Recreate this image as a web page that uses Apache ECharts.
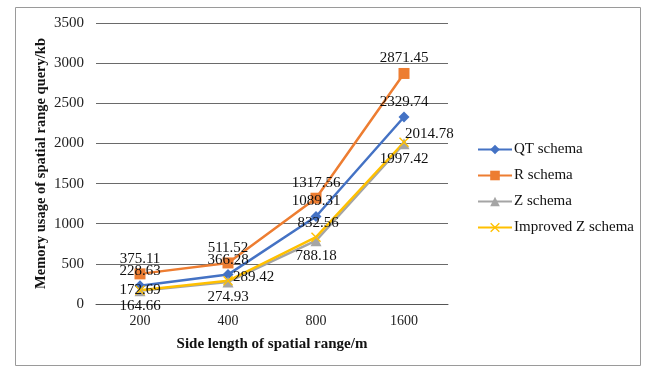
<!DOCTYPE html>
<html>
<head>
<meta charset="utf-8">
<style>
  html, body { margin: 0; padding: 0; background: #ffffff; }
  #chart { width: 646px; height: 367px; }
</style>
<script src="https://cdn.jsdelivr.net/npm/echarts@6/dist/echarts.min.js"></script>
</head>
<body>
<div id="chart"></div>
<script>
// Side lengths of the query window (m)
const categories = ['200', '400', '800', '1600'];

// Memory usage per schema (kb)
const qtSchema = [228.63, 366.28, 1089.31, 2329.74];
const rSchema = [375.11, 511.52, 1317.56, 2871.45];
const zSchema = [164.66, 274.93, 788.18, 1997.42];
const improvedZSchema = [172.69, 289.42, 832.56, 2014.78];

const seriesNames = ['QT schema', 'R schema', 'Z schema', 'Improved Z schema'];

// Where each value label sits relative to its point
const qtLabelPos = ['top', 'top', 'top', 'top'];
const rLabelPos = ['top', 'top', 'top', 'top'];
const zLabelPos = ['bottom', 'bottom', 'bottom', 'bottom'];
const improvedLabelPos = ['inside', 'right', 'top', 'right'];

const serif = '"Liberation Serif", "Times New Roman", serif';
const crossPath = 'path://M1,0 L5,4 L9,0 L10,1 L6,5 L10,9 L9,10 L5,6 L1,10 L0,9 L4,5 L0,1 Z';

function buildData(values, positions, offsets) {
  return values.map(function (v, i) {
    const item = { value: v, label: { position: positions[i] } };
    if (offsets && offsets[i]) item.label.offset = offsets[i];
    return item;
  });
}

function makeSeries(name, values, positions, color, symbol, size, offsets) {
  return {
    name: name,
    type: 'line',
    data: buildData(values, positions, offsets),
    symbol: symbol,
    symbolSize: size,
    lineStyle: { color: color, width: 2.5 },
    itemStyle: { color: color },
    label: {
      show: true,
      color: '#111',
      fontFamily: serif,
      fontSize: 15,
      distance: 2
    },
    emphasis: { disabled: true },
    animation: false
  };
}

const chart = echarts.init(document.getElementById('chart'), null, { renderer: 'canvas' });

chart.setOption({
  backgroundColor: '#ffffff',
  animation: false,
  graphic: [{
    type: 'rect',
    left: 13, top: 5,
    shape: { width: 625, height: 358 },
    style: { fill: 'none', stroke: '#9a9a9a', lineWidth: 1 },
    silent: true
  }],
  grid: { left: 96, right: 198, top: 23, bottom: 63 },
  legend: {
    orient: 'vertical',
    left: 472,
    top: 137,
    itemWidth: 34,
    itemHeight: 12,
    itemGap: 11,
    itemStyle: { borderWidth: 0 },
    textStyle: { fontFamily: serif, fontSize: 15, color: '#111', padding: [0, 0, 0, -3] },
    data: seriesNames
  },
  xAxis: {
    type: 'category',
    data: categories,
    boundaryGap: true,
    name: 'Side length of spatial range/m',
    nameLocation: 'middle',
    nameGap: 33,
    nameTextStyle: { fontFamily: serif, fontSize: 15, fontWeight: 'bold', color: '#111' },
    axisLine: { show: true, lineStyle: { color: '#555', width: 1 } },
    axisTick: { show: false },
    axisLabel: { fontFamily: serif, fontSize: 14, color: '#222', margin: 10 }
  },
  yAxis: {
    type: 'value',
    min: 0,
    max: 3500,
    interval: 500,
    name: 'Memory usage of spatial range query/kb',
    nameLocation: 'middle',
    nameGap: 47,
    nameMoveOverlap: false,
    nameTextStyle: { fontFamily: serif, fontSize: 14.5, fontWeight: 'bold', color: '#111' },
    axisLine: { show: false },
    axisTick: { show: false },
    axisLabel: {
      fontFamily: serif, fontSize: 15, color: '#222', margin: 12,
      formatter: function (v) { return String(v); }
    },
    splitLine: { lineStyle: { color: '#6a6a6a', width: 1 } }
  },
  series: [
    makeSeries(seriesNames[0], qtSchema, qtLabelPos, '#4472C4', 'diamond', 11),
    makeSeries(seriesNames[1], rSchema, rLabelPos, '#ED7D31', 'rect', 11),
    makeSeries(seriesNames[2], zSchema, zLabelPos, '#A5A5A5', 'triangle', 11),
    makeSeries(seriesNames[3], improvedZSchema, improvedLabelPos, '#FFC000', crossPath, 10,
      [null, [-2, -4], [2, 0], [-6, -8]])
  ]
});
</script>
</body>
</html>
